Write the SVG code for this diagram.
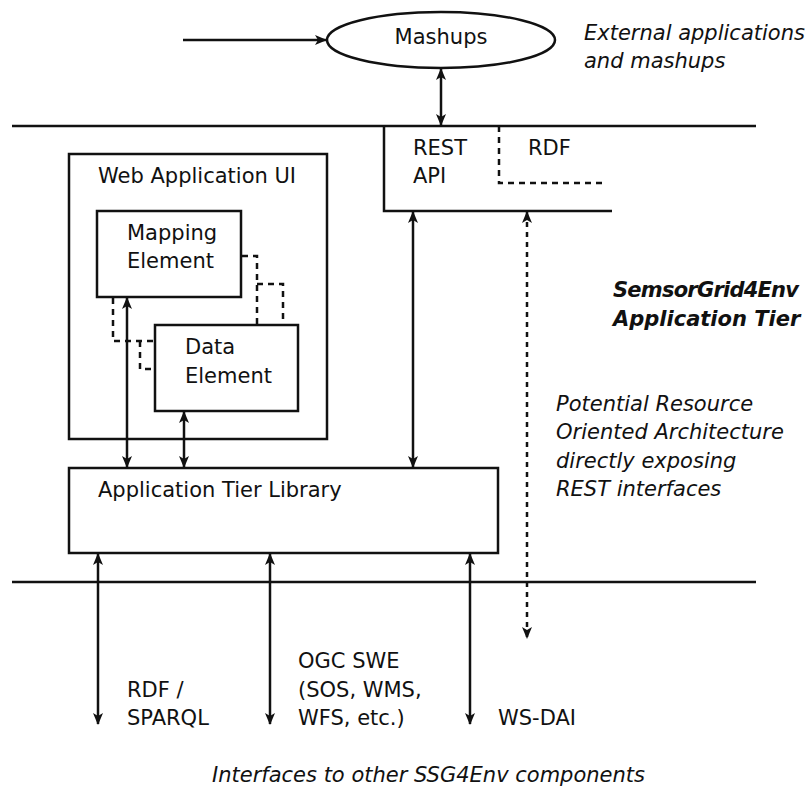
<svg xmlns="http://www.w3.org/2000/svg" width="805" height="787" viewBox="0 0 805 787">
<defs>
<style>
.t{font-family:"DejaVu Sans",sans-serif;font-size:21px;fill:#111}
.i{font-style:italic}
.b{font-weight:bold}
.box{fill:#fff;stroke:#111;stroke-width:2.5}
.ln{fill:none;stroke:#111;stroke-width:2.5}
.dash{fill:none;stroke:#111;stroke-width:2.5;stroke-dasharray:6,5}
.dot{fill:none;stroke:#111;stroke-width:2.5;stroke-dasharray:5,5}
</style>
<marker id="ah" viewBox="0 0 12 10" refX="11" refY="5" markerWidth="12" markerHeight="10" markerUnits="userSpaceOnUse" orient="auto-start-reverse">
<path d="M0,0 L12,5 L0,10 L3,5 z" fill="#111"/>
</marker>
</defs>
<rect width="805" height="787" fill="#fff"/>
<g id="tier-lines">
<line x1="12" y1="126" x2="756" y2="126" class="ln" stroke-width="2.5"/>
<line x1="12" y1="582" x2="756" y2="582" class="ln" stroke-width="2"/>
</g>
<g id="mashups">
<ellipse cx="441" cy="40" rx="114" ry="28" class="box"/>
<text x="441" y="44" class="t" text-anchor="middle">Mashups</text>
</g>
<g id="rest-api">
<polyline points="384,126 384,211 612,211" class="ln"/>
<polyline points="499,126 499,183 607,183" class="dash"/>
<text x="413" y="155" class="t">REST</text>
<text x="413" y="183" class="t">API</text>
<text x="528" y="155" class="t">RDF</text>
</g>
<g id="web-app-ui">
<rect x="69" y="154" width="258" height="285" class="box"/>
<text x="98" y="183" class="t">Web Application UI</text>
</g>
<g id="mapping-element">
<rect x="97" y="211" width="144" height="86" class="box"/>
<text x="127" y="240" class="t">Mapping</text>
<text x="127" y="268" class="t">Element</text>
</g>
<g id="data-element">
<rect x="155" y="325" width="143" height="86" class="box"/>
<text x="185" y="354" class="t">Data</text>
<text x="185" y="383" class="t">Element</text>
</g>
<g id="app-tier-library">
<rect x="69" y="468" width="429" height="85" class="box"/>
<text x="98" y="497" class="t">Application Tier Library</text>
</g>
<g id="connectors">
<line x1="183" y1="40" x2="326" y2="40" class="ln" marker-end="url(#ah)"/>
<line x1="441" y1="69" x2="441" y2="125" class="ln" marker-start="url(#ah)" marker-end="url(#ah)"/>
<polyline points="242,256 257,256 257,325" class="dash"/>
<polyline points="257,284 283,284 283,325" class="dash"/>
<polyline points="113,298 113,341 155,341" class="dash"/>
<polyline points="140,341 140,369 155,369" class="dash"/>
<line x1="127" y1="298" x2="127" y2="467" class="ln" marker-start="url(#ah)" marker-end="url(#ah)"/>
<line x1="184" y1="412" x2="184" y2="467" class="ln" marker-start="url(#ah)" marker-end="url(#ah)"/>
<line x1="413" y1="212" x2="413" y2="467" class="ln" marker-start="url(#ah)" marker-end="url(#ah)"/>
<line x1="527" y1="212" x2="527" y2="638" class="dot" marker-start="url(#ah)" marker-end="url(#ah)"/>
<line x1="98" y1="554" x2="98" y2="724" class="ln" marker-start="url(#ah)" marker-end="url(#ah)"/>
<line x1="270" y1="554" x2="270" y2="724" class="ln" marker-start="url(#ah)" marker-end="url(#ah)"/>
<line x1="470" y1="554" x2="470" y2="724" class="ln" marker-start="url(#ah)" marker-end="url(#ah)"/>
</g>
<g id="labels">
<text x="584" y="40" class="t i">External applications</text>
<text x="584" y="68" class="t i">and mashups</text>
<text x="613" y="297" class="t i b" textLength="186" lengthAdjust="spacing">SemsorGrid4Env</text>
<text x="613" y="326" class="t i b">Application Tier</text>
<text x="556" y="411" class="t i">Potential Resource</text>
<text x="556" y="439" class="t i">Oriented Architecture</text>
<text x="556" y="468" class="t i">directly exposing</text>
<text x="556" y="496" class="t i">REST interfaces</text>
<text x="127" y="697" class="t">RDF /</text>
<text x="127" y="725" class="t">SPARQL</text>
<text x="298" y="668" class="t">OGC SWE</text>
<text x="298" y="697" class="t">(SOS, WMS,</text>
<text x="298" y="725" class="t">WFS, etc.)</text>
<text x="498" y="725" class="t">WS-DAI</text>
<text x="212" y="782" class="t i">Interfaces to other SSG4Env components</text>
</g>
</svg>
